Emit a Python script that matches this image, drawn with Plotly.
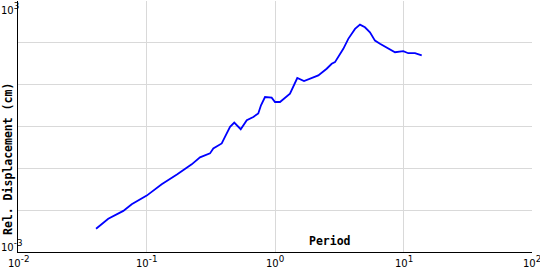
import math
import plotly.graph_objects as go

period = [0.0405, 0.0504, 0.0660, 0.0767, 0.1004, 0.1313, 0.1737, 0.2248, 0.2608,
          0.312, 0.331, 0.373, 0.385, 0.408, 0.447, 0.482, 0.541, 0.603, 0.678,
          0.741, 0.778, 0.836, 0.942, 1.0, 1.094, 1.308, 1.491, 1.682, 1.872,
          2.173, 2.524, 2.762, 2.930, 3.401, 3.718, 4.195, 4.585, 5.013, 5.483,
          5.998, 6.561, 7.396, 8.590, 9.96, 10.89, 12.29, 13.86]
disp = [0.00359, 0.00621, 0.00962, 0.0139, 0.0223, 0.0416, 0.0720, 0.1245, 0.1828,
        0.2276, 0.299, 0.379, 0.394, 0.565, 0.978, 1.245, 0.862, 1.413, 1.693,
        2.04, 3.21, 5.07, 4.90, 3.85, 3.85, 6.10, 14.4, 12.2, 13.9,
        16.6, 24.0, 31.6, 34.5, 72.0, 124.5, 215, 273, 235, 179,
        113, 94.7, 76.0, 59.7, 63.1, 56.5, 56.5, 49.9]

x_tickvals = [0.01, 0.1, 1, 10, 100]
x_exponents = ["-2", "-1", "0", "1", "2"]
y_tickvals = [1e-3, 1e-2, 1e-1, 1, 10, 100, 1000]
y_label_vals = [1000, 0.001]
y_exponents = ["3", "-3"]
x_title = "Period"
y_title = "Rel. Displacement (cm)"


def pow_label(exp):
    return "<span style='font-size:10px'>10</span><sup>" + exp + "</sup>"


tick_font = dict(family="DejaVu Sans", size=12.5, color="black")
title_font = dict(family="DejaVu Sans Mono", size=11.5, color="black", weight="bold")

fig = go.Figure()
fig.add_trace(go.Scatter(x=period, y=disp, mode="lines",
                         line=dict(color="#0000ff", width=1.8), hoverinfo="skip"))

fig.update_layout(
    width=540, height=270,
    margin=dict(l=18, r=8, t=1, b=18),
    paper_bgcolor="white", plot_bgcolor="white",
    showlegend=False,
    xaxis=dict(type="log", range=[-2, 2.00001], tickvals=x_tickvals,
               showticklabels=False,
               showgrid=True, gridcolor="#d9d9d9", gridwidth=1,
               showline=True, linecolor="black", linewidth=1, ticks="",
               zeroline=False),
    yaxis=dict(type="log", range=[-3, 3.00001], tickvals=y_tickvals,
               showticklabels=False,
               showgrid=True, gridcolor="#d9d9d9", gridwidth=1,
               showline=True, linecolor="black", linewidth=1, ticks="",
               zeroline=False),
)

for v, e in zip(x_tickvals, x_exponents):
    fig.add_annotation(text=pow_label(e), xref="x", yref="paper", x=math.log10(v), y=0,
                       xanchor="center", yanchor="top", showarrow=False, font=tick_font,
                       borderpad=0, yshift=-1)

fig.add_annotation(text=pow_label(y_exponents[0]), xref="paper", yref="y",
                   x=-18 / 514, y=math.log10(y_label_vals[0]),
                   xanchor="left", yanchor="top", showarrow=False, font=tick_font,
                   borderpad=0, yshift=1)
fig.add_annotation(text=pow_label(y_exponents[1]), xref="paper", yref="y",
                   x=-18 / 514, y=math.log10(y_label_vals[1]),
                   xanchor="left", yanchor="bottom", showarrow=False, font=tick_font,
                   borderpad=0, yshift=-2)

fig.add_annotation(text=x_title, xref="paper", yref="paper", x=(330 - 18) / 514, y=(252 - 241) / 251,
                   xanchor="center", yanchor="middle", showarrow=False, font=title_font)
fig.add_annotation(text=y_title, xref="paper", yref="paper", x=-10 / 514, y=(252 - 159) / 251,
                   xanchor="center", yanchor="middle", showarrow=False, font=title_font,
                   textangle=-90)

fig.write_html("out.html")
